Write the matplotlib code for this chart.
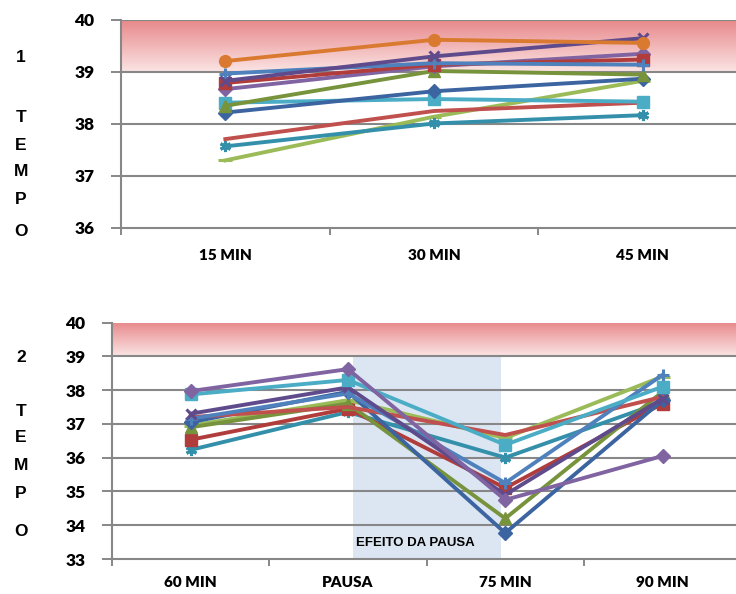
import numpy as np
import matplotlib.pyplot as plt
from matplotlib.colors import to_rgb

W, H = 736, 594

top_labels = ["15 MIN", "30 MIN", "45 MIN"]
bottom_labels = ["60 MIN", "PAUSA", "75 MIN", "90 MIN"]

# temperaturas, primeiro tempo
t_lgreen = [37.30, 38.14, 38.83]
t_teal = [37.57, 38.01, 38.17]
t_red = [37.71, 38.25, 38.41]
t_cyan = [38.41, 38.48, 38.43]
t_dblue = [38.22, 38.63, 38.87]
t_olive = [38.35, 39.02, 38.95]
t_purple = [38.67, 39.11, 39.35]
t_red_sq = [38.79, 39.14, 39.24]
t_blue = [38.97, 39.17, 39.14]
t_dpurple = [38.83, 39.30, 39.65]
t_orange = [39.21, 39.62, 39.56]

# temperaturas, segundo tempo (com pausa)
b_teal = [36.23, 37.35, 36.00, 37.65]
b_red_sq = [36.53, 37.45, 35.10, 37.60]
b_lgreen = [36.95, 37.70, 36.58, 38.40]
b_olive = [36.90, 37.60, 34.20, 37.95]
b_dblue = [37.05, 37.95, 33.77, 37.70]
b_red = [37.20, 37.50, 36.67, 37.80]
b_blue = [37.15, 37.90, 35.25, 38.45]
b_dpurple = [37.30, 38.08, 34.90, 37.75]
b_cyan = [37.87, 38.30, 36.38, 38.10]
b_purple = [37.97, 38.62, 34.75, 36.05]

STAR = (6, 2, 0)
styles = {
    "lgreen": ("#9BBB59", "_"),
    "teal": ("#3490AA", STAR),
    "red": ("#C0504D", None),
    "cyan": ("#4BACC6", "s"),
    "dblue": ("#3B64A0", "D"),
    "olive": ("#77933C", "^"),
    "purple": ("#8064A2", "D"),
    "red_sq": ("#B03C3C", "s"),
    "blue": ("#4F81BD", "+"),
    "dpurple": ("#5F4B8B", "x"),
    "orange": ("#D97A30", "o"),
}
marker_size = {"s": 8, "o": 8.5, "D": 7, "^": 8, "+": 8, "x": 7, STAR: 8, "_": 10}

top_series = [("lgreen", t_lgreen), ("teal", t_teal), ("red", t_red),
              ("cyan", t_cyan), ("dblue", t_dblue), ("olive", t_olive),
              ("purple", t_purple), ("red_sq", t_red_sq), ("blue", t_blue),
              ("dpurple", t_dpurple), ("orange", t_orange)]
bottom_series = [("teal", b_teal), ("red_sq", b_red_sq), ("lgreen", b_lgreen),
                 ("olive", b_olive), ("dblue", b_dblue), ("red", b_red),
                 ("blue", b_blue), ("dpurple", b_dpurple), ("cyan", b_cyan),
                 ("purple", b_purple)]

GRAY = "#878787"
TICK_FONT = dict(fontfamily="Lato", fontweight="heavy")


def draw_panel(ax, labels, series, ymin, xmax, grid_vals, xpad):
    n = len(labels)
    x = np.arange(n)

    # faixa rosada entre 39 e 40 graus
    g = np.linspace(0, 1, 80)[:, None, None]
    c_top = np.array(to_rgb("#E8898B"))
    c_bot = np.array(to_rgb("#FBE4E4"))
    img = c_top * (1 - g) + c_bot * g
    ax.imshow(img, extent=(-0.5, xmax, 39, 40), aspect="auto",
              origin="upper", zorder=0.2, interpolation="bilinear")

    for v in grid_vals:
        ax.axhline(v, color=GRAY, lw=1.5, zorder=1.5)

    for name, vals in series:
        color, marker = styles[name]
        ms = marker_size.get(marker, 0)
        ax.plot(x, vals, color=color, lw=2.8, marker=marker, ms=ms,
                mew=2.2 if marker in ("+", "x", STAR, "_") else 1,
                mec=color, mfc=color, zorder=2)

    ax.set_xlim(-0.5, xmax)
    ax.set_ylim(ymin, 40)
    ax.set_yticks(range(ymin, 41))
    ax.set_xticks(np.arange(n + 1) - 0.5)
    ax.set_xticklabels([])
    ax.set_xticks(x, minor=True)
    ax.set_xticklabels(labels, minor=True, fontsize=11, **TICK_FONT)
    ax.tick_params(axis="x", which="minor", length=0, pad=xpad)
    ax.tick_params(axis="x", which="major", direction="out", length=5,
                   width=1.4, color=GRAY)
    ax.tick_params(axis="y", direction="out", length=7, width=1.4,
                   color=GRAY, pad=12)
    for lbl in ax.get_yticklabels():
        lbl.set_fontsize(12.5)
        lbl.set_fontfamily(TICK_FONT["fontfamily"])
        lbl.set_fontweight(TICK_FONT["fontweight"])
    for side in ("top", "right"):
        ax.spines[side].set_visible(False)
    for side in ("left", "bottom"):
        ax.spines[side].set_color(GRAY)
        ax.spines[side].set_linewidth(1.5)


fig = plt.figure(figsize=(W / 100, H / 100), dpi=100)

top_w = 626
ax1 = fig.add_axes([121 / W, 1 - 228 / H, top_w / W, 208 / H])
draw_panel(ax1, top_labels, top_series, 36, -0.5 + top_w / 209,
           [37, 38, 39, 40], 15)

bot_w = 634
ax2 = fig.add_axes([112 / W, 1 - 559 / H, bot_w / W, 236.5 / H])
ax2.fill_between([1.03, 1.97], 33, 39, color="#DCE6F2", lw=0, zorder=0.3)
draw_panel(ax2, bottom_labels, bottom_series, 33, -0.5 + bot_w / 157.3,
           [34, 35, 36, 37, 38, 39], 12)
ax2.text(1.05, 33.47, "EFEITO DA PAUSA", fontfamily="Liberation Sans",
         fontweight="bold", fontsize=9.5, ha="left", va="center", zorder=3)

# rótulos verticais à esquerda
left_text = [("1", 58), ("T", 118), ("E", 145), ("M", 172), ("P", 200), ("O", 232),
             ("2", 357), ("T", 412), ("E", 438), ("M", 466), ("P", 494), ("O", 532)]
for ch, yp in left_text:
    fig.text(21 / W, 1 - yp / H, ch, fontfamily="Liberation Sans",
             fontweight="bold", fontsize=12.5, ha="center", va="center")

fig.savefig("out.png", dpi=100)
